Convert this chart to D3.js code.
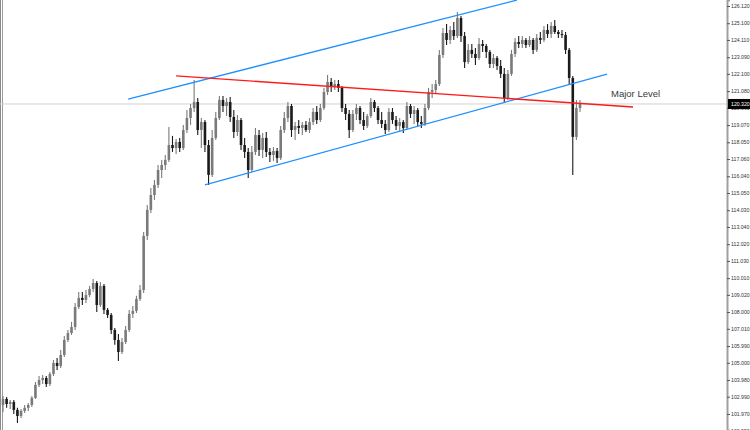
<!DOCTYPE html>
<html>
<head>
<meta charset="utf-8">
<script src="https://cdn.jsdelivr.net/npm/d3@7/dist/d3.min.js"></script>
<style>
    body { margin: 0; background: #fff; }
    .chart svg { display: block; }
</style>
</head>
<body>
<div class="chart"></div>
<script>
// bars as [open, high, low, close]
const bars = [
    [102.50,103.04,102.09,102.86],[102.86,102.98,102.33,102.56],[102.56,102.80,102.27,102.68],[102.68,102.80,101.97,102.21],
    [102.21,102.33,101.44,101.85],[101.85,102.27,101.73,102.15],[102.15,102.50,102.03,102.33],[102.33,102.62,102.15,102.50],
    [102.50,103.04,102.38,102.92],[102.92,103.86,102.86,103.69],[103.69,104.22,103.57,103.98],[103.98,104.28,103.74,104.10],
    [104.10,104.22,103.57,103.74],[103.74,104.46,103.63,104.34],[104.34,105.17,104.22,104.99],[104.99,105.28,104.57,104.81],
    [104.81,105.76,104.69,105.46],[105.46,106.59,105.34,106.35],[106.35,106.94,106.23,106.76],[106.76,107.42,106.65,107.12],
    [107.12,108.54,106.94,108.30],[108.30,109.19,108.19,108.84],[108.84,109.19,108.42,108.72],[108.72,109.31,108.54,109.01],
    [109.01,109.55,108.90,109.37],[109.37,109.96,109.19,109.72],[109.72,109.84,108.01,108.42],[108.42,109.78,108.30,109.55],
    [109.55,109.66,107.89,108.13],[108.13,108.24,107.65,107.83],[107.83,107.95,106.71,106.94],[106.94,107.06,106.06,106.35],
    [106.35,106.71,105.11,105.64],[105.64,106.47,105.52,106.23],[106.23,107.18,106.11,106.94],[106.94,108.13,106.82,107.89],
    [107.89,108.36,107.65,108.07],[108.07,108.96,107.95,108.78],[108.78,109.61,108.66,109.31],[109.31,112.74,109.13,112.51],
    [112.51,114.34,112.27,114.05],[114.05,115.35,113.87,114.93],[114.93,115.82,114.64,115.53],[115.53,116.71,115.35,116.41],
    [116.41,117.01,115.94,116.71],[116.71,117.30,116.41,117.01],[117.01,118.96,116.89,117.89],[117.89,118.43,117.48,117.71],
    [117.71,118.25,117.36,118.07],[118.07,118.31,117.48,117.71],[117.71,119.08,117.60,118.78],[118.78,119.96,118.60,119.49],
    [119.49,120.32,119.08,120.08],[120.08,121.74,119.85,120.44],[120.44,120.67,118.48,118.78],[118.78,119.49,117.71,119.25],
    [119.25,119.37,117.48,117.89],[117.89,118.19,115.53,116.12],[116.12,118.78,116.00,118.31],[118.31,119.85,118.19,119.49],
    [119.49,120.79,119.37,120.56],[120.56,120.79,119.85,120.20],[120.20,120.67,119.61,120.44],[120.44,120.73,119.25,119.55],
    [119.55,119.96,118.31,118.66],[118.66,119.67,118.43,119.37],[119.37,119.49,117.60,117.89],[117.89,118.31,117.12,117.48],
    [117.48,117.71,115.94,116.41],[116.41,117.83,116.29,117.48],[117.48,118.90,117.30,118.48],[118.48,118.78,117.24,117.60],
    [117.60,118.60,117.12,118.31],[118.31,118.66,117.18,117.48],[117.48,117.71,116.89,117.30],[117.30,117.77,116.95,117.54],
    [117.54,117.71,116.83,117.12],[117.12,119.02,117.01,118.78],[118.78,119.85,118.60,119.49],[119.49,120.44,119.25,120.20],
    [120.20,120.32,118.37,118.78],[118.78,119.25,118.19,119.02],[119.02,119.37,118.54,118.90],[118.90,119.25,118.48,119.08],
    [119.08,119.31,118.66,118.78],[118.78,119.49,118.60,119.25],[119.25,120.08,119.08,119.85],[119.85,120.20,119.14,119.37],
    [119.37,120.32,119.25,120.08],[120.08,121.27,119.96,121.03],[121.03,122.04,120.85,121.62],[121.62,121.86,121.03,121.38],
    [121.38,121.74,121.15,121.50],[121.50,121.74,121.03,121.27],[121.27,121.38,119.85,120.08],[120.08,120.32,119.37,119.73],
    [119.73,119.96,118.31,118.78],[118.78,119.96,118.66,119.73],[119.73,120.32,119.37,120.08],[120.08,120.20,119.14,119.37],
    [119.37,119.85,118.78,119.02],[119.02,119.73,118.90,119.61],[119.61,120.67,119.49,120.44],[120.44,120.56,119.85,120.08],
    [120.08,120.20,119.14,119.37],[119.37,119.85,118.90,119.14],[119.14,119.37,118.54,118.78],[118.78,120.08,118.66,119.85],
    [119.85,120.08,119.14,119.37],[119.37,119.61,118.78,119.02],[119.02,119.49,118.66,119.25],[119.25,119.37,118.60,118.90],
    [118.90,120.44,118.78,120.20],[120.20,120.32,119.49,119.73],[119.73,120.20,119.14,119.96],[119.96,120.08,119.02,119.25],
    [119.25,119.61,118.90,119.14],[119.14,120.32,119.02,120.08],[120.08,121.27,119.96,121.03],[121.03,121.50,120.67,121.15],
    [121.15,121.74,120.91,121.50],[121.50,123.52,121.38,123.22],[123.22,124.82,123.04,124.52],[124.52,125.05,123.81,124.11],
    [124.11,124.94,123.87,124.70],[124.70,125.17,124.11,124.34],[124.34,125.76,124.23,125.41],[125.41,125.53,123.99,124.34],
    [124.34,124.58,122.45,122.80],[122.80,123.87,122.69,123.52],[123.52,123.87,123.04,123.28],[123.28,123.63,122.63,123.04],
    [123.04,124.23,122.92,123.87],[123.87,124.11,123.40,123.75],[123.75,123.87,123.04,123.40],[123.40,123.52,122.45,122.69],
    [122.69,123.28,122.45,123.04],[123.04,123.16,122.33,122.57],[122.57,122.92,121.86,122.10],[122.10,122.45,120.44,120.67],
    [120.67,122.33,120.56,122.10],[122.10,123.52,121.98,123.28],[123.28,124.23,123.10,123.99],[123.99,124.34,123.63,123.87],
    [123.87,124.34,123.63,124.11],[124.11,124.23,123.63,123.81],[123.81,124.34,123.69,124.11],[124.11,124.23,123.28,123.52],
    [123.52,124.46,123.40,124.23],[124.23,124.58,123.87,124.11],[124.11,124.94,123.99,124.70],[124.70,125.05,124.23,124.46],
    [124.46,125.17,124.23,124.94],[124.94,125.29,124.46,124.58],[124.58,124.70,124.23,124.46],[124.46,124.70,124.23,124.40],
    [124.40,124.58,123.28,123.52],[123.52,123.63,121.50,121.86],[121.86,121.98,116.12,118.37],[118.37,120.56,118.19,120.08],
    [120.08,120.56,119.85,120.32]
];

const priceTicks = [126.120, 125.100, 124.110, 123.090, 122.100, 121.080, 120.090, 119.070, 118.050,
    117.060, 116.040, 115.050, 114.030, 113.040, 112.020, 111.030, 110.010, 109.020, 108.000,
    107.010, 105.990, 105.000, 103.980, 102.990, 101.970, 100.950];

const lastPrice = 120.32;

// trendlines: [[barIndex, price], [barIndex, price]]
const upperChannel = [[34.7, 120.61], [142.5, 126.47]];
const lowerChannel = [[56.0, 115.53], [167.5, 122.09]];
const majorLevel = [[48.0, 121.98], [174.7, 120.14]];
const levelLabel = "Major Level";

let width = 750, height = 430, axisX = 727;

let svg = d3.select(".chart")
    .append("svg")
    .attr("width", width)
    .attr("height", height)
    .style("background", "#fff");

// x over bar index, y over price
let x = d3.scaleLinear()
    .domain([0, bars.length - 1])
    .range([3, 580]);

let y = d3.scaleLinear()
    .domain([101.02, 126.475])
    .range([height, 0]);

let bodyW = 2.6;

// left frame lines
svg.append("line").attr("x1", 0.5).attr("x2", 0.5).attr("y1", 0).attr("y2", height)
    .attr("stroke", "#8a8a8a").attr("stroke-width", 1);
svg.append("line").attr("x1", 2.5).attr("x2", 2.5).attr("y1", 0).attr("y2", height)
    .attr("stroke", "#9a9a9a").attr("stroke-width", 1);

// bid line
svg.append("line")
    .attr("x1", 0).attr("x2", axisX)
    .attr("y1", y(lastPrice)).attr("y2", y(lastPrice))
    .attr("stroke", "#d2d2d2").attr("stroke-width", 1);

// candles
let candle = svg.append("g")
    .selectAll("g")
    .data(bars)
    .enter()
    .append("g");

let colorOf = d => d[3] >= d[0] ? "#7a7a7a" : "#1a1a1a";

candle.append("line")
    .attr("x1", (d, i) => x(i))
    .attr("x2", (d, i) => x(i))
    .attr("y1", d => y(d[1]))
    .attr("y2", d => y(d[2]))
    .attr("stroke", colorOf)
    .attr("stroke-width", 1.1);

candle.append("rect")
    .attr("x", (d, i) => x(i) - bodyW / 2)
    .attr("y", d => y(Math.max(d[0], d[3])))
    .attr("width", bodyW)
    .attr("height", d => Math.max(1, Math.abs(y(d[0]) - y(d[3]))))
    .attr("fill", colorOf);

// trendlines
let trend = d3.line()
    .x(d => x(d[0]))
    .y(d => y(d[1]));

svg.append("path").datum(upperChannel)
    .attr("d", trend).attr("fill", "none")
    .attr("stroke", "#1e90ff").attr("stroke-width", 1.3);

svg.append("path").datum(lowerChannel)
    .attr("d", trend).attr("fill", "none")
    .attr("stroke", "#1e90ff").attr("stroke-width", 1.3);

svg.append("path").datum(majorLevel)
    .attr("d", trend).attr("fill", "none")
    .attr("stroke", "#ff1a1a").attr("stroke-width", 1.3);

svg.append("text")
    .attr("x", x(majorLevel[1][0]) - 22)
    .attr("y", y(majorLevel[1][1]) - 10)
    .attr("font-family", "Liberation Sans, Arial, sans-serif")
    .attr("font-size", "9.5px")
    .attr("fill", "#3a3a3a")
    .text(levelLabel);

// price axis
let axis = svg.append("g")
    .attr("transform", "translate(" + axisX + ",0)")
    .call(d3.axisRight(y).tickValues(priceTicks).tickSize(3).tickPadding(1).tickFormat(d3.format(".3f")));

axis.select(".domain").attr("stroke", "#a0a0a0").attr("stroke-width", 2);
axis.selectAll(".tick line").attr("stroke", "#555");
axis.selectAll("text")
    .attr("font-family", "Liberation Sans, Arial, sans-serif")
    .attr("font-size", "5.2px")
    .attr("fill", "#333");

// current price box
svg.append("rect")
    .attr("x", axisX + 1).attr("y", y(lastPrice) - 5)
    .attr("width", width - axisX - 1).attr("height", 10)
    .attr("fill", "#000");

svg.append("text")
    .attr("x", axisX + 4).attr("y", y(lastPrice) + 2)
    .attr("font-family", "Liberation Sans, Arial, sans-serif")
    .attr("font-size", "5.2px")
    .attr("fill", "#fff")
    .text(d3.format(".3f")(lastPrice));
</script>
</body>
</html>
